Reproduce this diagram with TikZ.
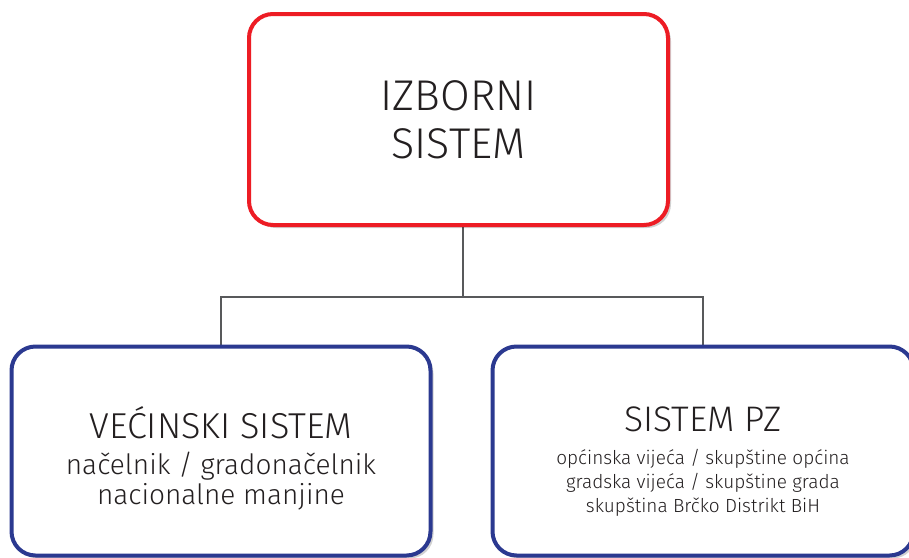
\documentclass[tikz,border=0pt]{standalone}
\usepackage{fontspec}
\setmainfont{Fira Sans}[UprightFont={* Light}]
\usepackage{tikz}
\usetikzlibrary{positioning,shadows}
\definecolor{boxred}{HTML}{ED1C24}
\definecolor{boxblue}{HTML}{2B3990}
\definecolor{linegray}{HTML}{58595B}
\definecolor{textgray}{HTML}{231F20}
\tikzset{x=1pt, y=-1pt, % pixel like units, y going down
box/.style={draw=#1, line width=4pt, fill=white, rounded corners=24pt, minimum width=419pt, minimum height=209pt,
 drop shadow={shadow xshift=3pt, shadow yshift=-3pt, fill=black, opacity=0.18}}, % sets the properties of every box
label text/.style={text=textgray, align=center}, % the texts in the boxes
link/.style={draw=linegray, line width=2pt}, % the gray connectors
}
\begin{document}
\begin{tikzpicture}
\useasboundingbox (0,0) rectangle (909,557);

\coordinate (split) at (463,297);

\draw[link] (split |- 200,227) -- (split);
\draw[link] (split) -| (221,345);
\draw[link] (split) -| (703,345);

\node[box=boxred, minimum height=211pt] (izb) at (458.5,119.5) {};
\node[box=boxblue] (ves) at (221,451) {};
\node[box=boxblue, minimum width=421pt] (spz) at (703,451) {};

\node[label text, font=\fontsize{43}{48}\selectfont] (izbtxt) at (izb.center) {IZBORNI\\SISTEM};
\node[label text, font=\fontsize{28}{30}\selectfont] (vestxt) at (221,458)
 {{\fontsize{36}{36}\selectfont VEĆINSKI SISTEM}\\[6pt] načelnik / gradonačelnik\\nacionalne manjine};
\node[label text, font=\fontsize{19}{24}\selectfont] (spztxt) at (703,462)
 {{\fontsize{35.5}{35}\selectfont SISTEM PZ}\\[9pt] općinska vijeća / skupštine općina\\gradska vijeća / skupštine grada\\skupština Brčko Distrikt BiH};
\end{tikzpicture}
\end{document}
